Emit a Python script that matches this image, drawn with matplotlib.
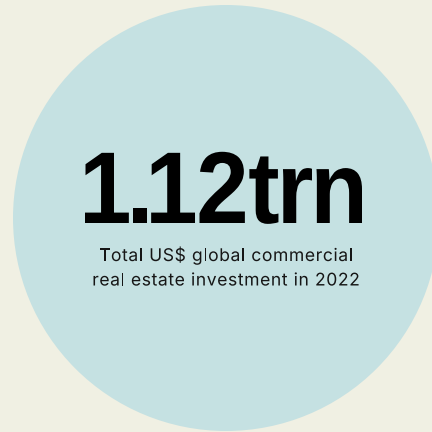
import matplotlib
matplotlib.use('Agg')
import numpy as np
import matplotlib.pyplot as plt
from matplotlib.patches import Circle, PathPatch
from matplotlib.textpath import TextPath
from matplotlib.font_manager import FontProperties, findfont
from matplotlib.ft2font import FT2Font
import matplotlib.transforms as mtransforms

# figures from the graphic
headline = "1.12trn"
subtitle_lines = ["Total US$ global commercial", "real estate investment in 2022"]

BG = '#F0F0E3'
DISC = '#C5E1E2'


def ink_x(path):
    pts = np.concatenate(path.to_polygons())
    return pts[:, 0].min(), pts[:, 0].max()


def draw_tight_word(ax, text, prop, size, cx, baseline, width, gap, color):
    """
    Glyphs side by side with a fixed ink gap, squeezed sideways to fill `width`.
    """
    paths = [TextPath((0, 0), ch, size=size, prop=prop) for ch in text]
    spans = [ink_x(p) for p in paths]
    ink = sum(x1 - x0 for x0, x1 in spans)
    sx = (width - gap * (len(text) - 1)) / ink
    x = cx - width / 2
    for p, (x0, x1) in zip(paths, spans):
        tr = (mtransforms.Affine2D().translate(-x0, 0).scale(sx, 1)
              .translate(x, baseline))
        ax.add_patch(PathPatch(tr.transform_path(p), facecolor=color,
                               edgecolor='none', lw=0))
        x += (x1 - x0) * sx + gap


def draw_tracked(ax, text, prop, size, cx, baseline, tracking, color):
    """
    Plain text with a little extra letter spacing, centred on cx.
    """
    font = FT2Font(findfont(prop))
    font.set_size(size, 72)
    adv = [font.load_char(ord(ch)).linearHoriAdvance / 65536.0 for ch in text]
    total = sum(adv) + tracking * (len(text) - 1)
    x = cx - total / 2
    for ch, a in zip(text, adv):
        if ch != ' ':
            p = TextPath((x, baseline), ch, size=size, prop=prop)
            ax.add_patch(PathPatch(p, facecolor=color, edgecolor='none', lw=0))
        x += a + tracking


def main():
    fig = plt.figure(figsize=(6, 6), dpi=72)
    fig.patch.set_facecolor(BG)
    ax = fig.add_axes([0, 0, 1, 1])
    ax.set_xlim(0, 432)
    ax.set_ylim(0, 432)
    ax.set_aspect('equal')
    ax.axis('off')

    ax.add_patch(Circle((226, 214), 213, facecolor=DISC, edgecolor='none'))

    bold = FontProperties(family='Liberation Sans', weight='bold')
    draw_tight_word(ax, headline, bold, 102, 223.5, 209, 277, 4.5, '#000000')

    regular = FontProperties(family='Inter', weight='normal')
    for i, line in enumerate(subtitle_lines):
        draw_tracked(ax, line, regular, 17.5, 226, 432 - 261 - i * 24.5, 0.6, '#161616')

    fig.savefig('out.png', dpi=72, facecolor=BG)


if __name__ == "__main__":
    main()
